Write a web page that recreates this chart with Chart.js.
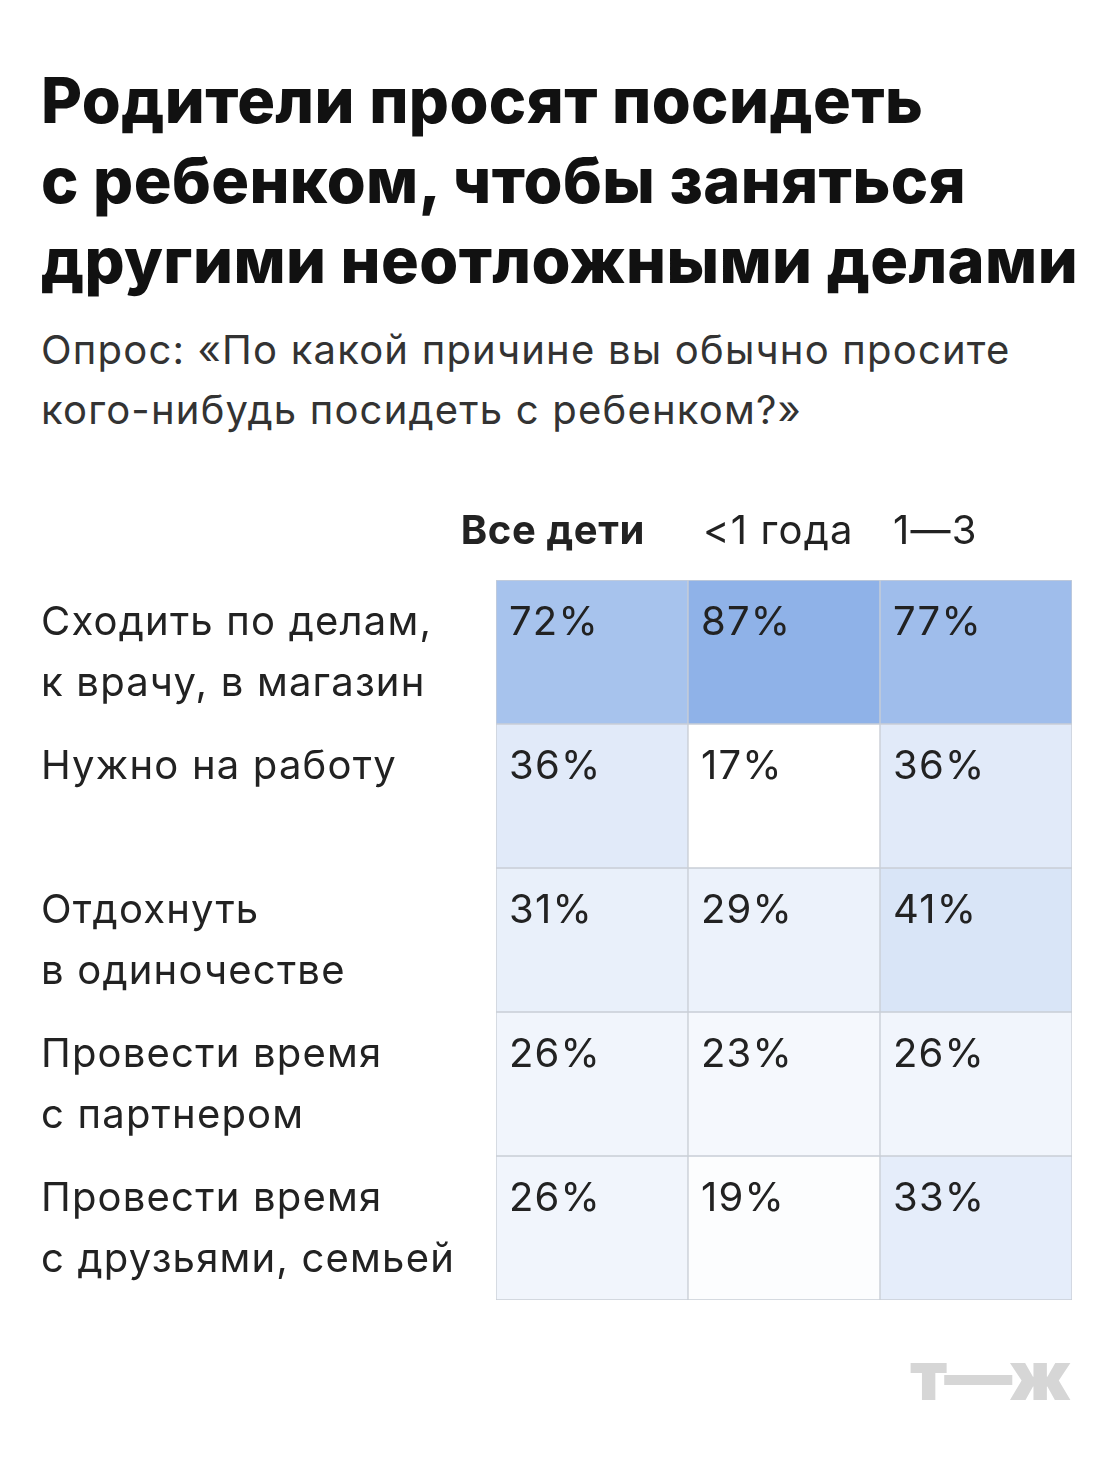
<!DOCTYPE html>
<html><head><meta charset="utf-8">
<script src="https://cdn.jsdelivr.net/npm/chart.js@4"></script>
<style>
body{margin:0;background:#fff;font-family:Inter,"Noto Sans",sans-serif;color:#111;}
#wrap{position:relative;width:1120px;height:1468px;overflow:hidden}
h1{position:absolute;left:41px;top:60px;margin:0;font-size:63px;line-height:80px;font-weight:800;letter-spacing:0.4px}
.sub{position:absolute;left:41px;top:320px;font-size:40px;line-height:60px;color:#333;letter-spacing:1.2px}
.logo{position:absolute;left:910px;top:1340px;font-size:68px;line-height:70px;font-weight:900;color:#d6d6d6;letter-spacing:-3px}
canvas{position:absolute;left:0;top:480px}
</style></head><body><div id="wrap">
<h1>Родители просят посидеть<br>с ребенком, чтобы заняться<br>другими неотложными делами</h1>
<div class="sub">Опрос: «По какой причине вы обычно просите<br>кого-нибудь посидеть с ребенком?»</div>
<div class="logo">т—ж</div>
<canvas id="c" width="1120" height="840"></canvas>
</div>
<script>
const columns = ['Все дети', '<1 года', '1—3'];
const rows = [
  ['Сходить по делам,', 'к врачу, в магазин'],
  ['Нужно на работу'],
  ['Отдохнуть', 'в одиночестве'],
  ['Провести время', 'с партнером'],
  ['Провести время', 'с друзьями, семьей']
];
const values = [
  [72, 87, 77],
  [36, 17, 36],
  [31, 29, 41],
  [26, 23, 26],
  [26, 19, 33]
];

function cellColor(v) {
  const t = Math.max(0, Math.min(1, (v - 17) / 70));
  const r = Math.round(255 - t * (255 - 143));
  const g = Math.round(255 - t * (255 - 178));
  const b = Math.round(255 - t * (255 - 232));
  return `rgb(${r},${g},${b})`;
}

const datasets = rows.map((r, i) => ({
  label: r.join(' '),
  data: values[i].map(() => [i, i + 1]),
  backgroundColor: values[i].map(cellColor),
  borderColor: '#c9ced6',
  borderWidth: 1,
  borderSkipped: false,
  barPercentage: 1,
  categoryPercentage: 1,
  grouped: false
}));

const FONT = 'Inter, "Noto Sans", sans-serif';
const labelsPlugin = {
  id: 'labels',
  afterDatasetsDraw(chart) {
    const ctx = chart.ctx, x = chart.scales.x, y = chart.scales.y;
    ctx.save();
    ctx.fillStyle = '#222';
    ctx.textBaseline = 'alphabetic';
    ctx.font = '40px ' + FONT;
    ctx.letterSpacing = '1.2px';
    const colW = x.getPixelForValue(1) - x.getPixelForValue(0);
    values.forEach((row, i) => {
      const top = y.getPixelForValue(i);
      row.forEach((v, j) => {
        const left = x.getPixelForValue(j) - colW / 2;
        ctx.fillText(v + '%', left + 13, top + 55);
      });
      rows[i].forEach((line, k) => {
        ctx.fillText(line, 41, top + 55 + k * 61);
      });
    });
    ctx.font = 'bold 40px ' + FONT;
    ctx.letterSpacing = '0.6px';
    ctx.textAlign = 'right';
    ctx.fillText(columns[0], 645, 64);
    ctx.textAlign = 'left';
    ctx.font = '40px ' + FONT;
    ctx.letterSpacing = '1.2px';
    ctx.fillText(columns[1], 703, 64);
    ctx.fillText(columns[2], 893, 64);
    ctx.restore();
  }
};

new Chart(document.getElementById('c'), {
  type: 'bar',
  data: { labels: columns, datasets },
  options: {
    responsive: false,
    animation: false,
    layout: { padding: { left: 496, right: 48, top: 100, bottom: 20 } },
    plugins: { legend: { display: false }, tooltip: { enabled: false } },
    scales: {
      x: { display: false, offset: true },
      y: { display: false, min: 0, max: 5, reverse: true }
    }
  },
  plugins: [labelsPlugin]
});
</script></body></html>
